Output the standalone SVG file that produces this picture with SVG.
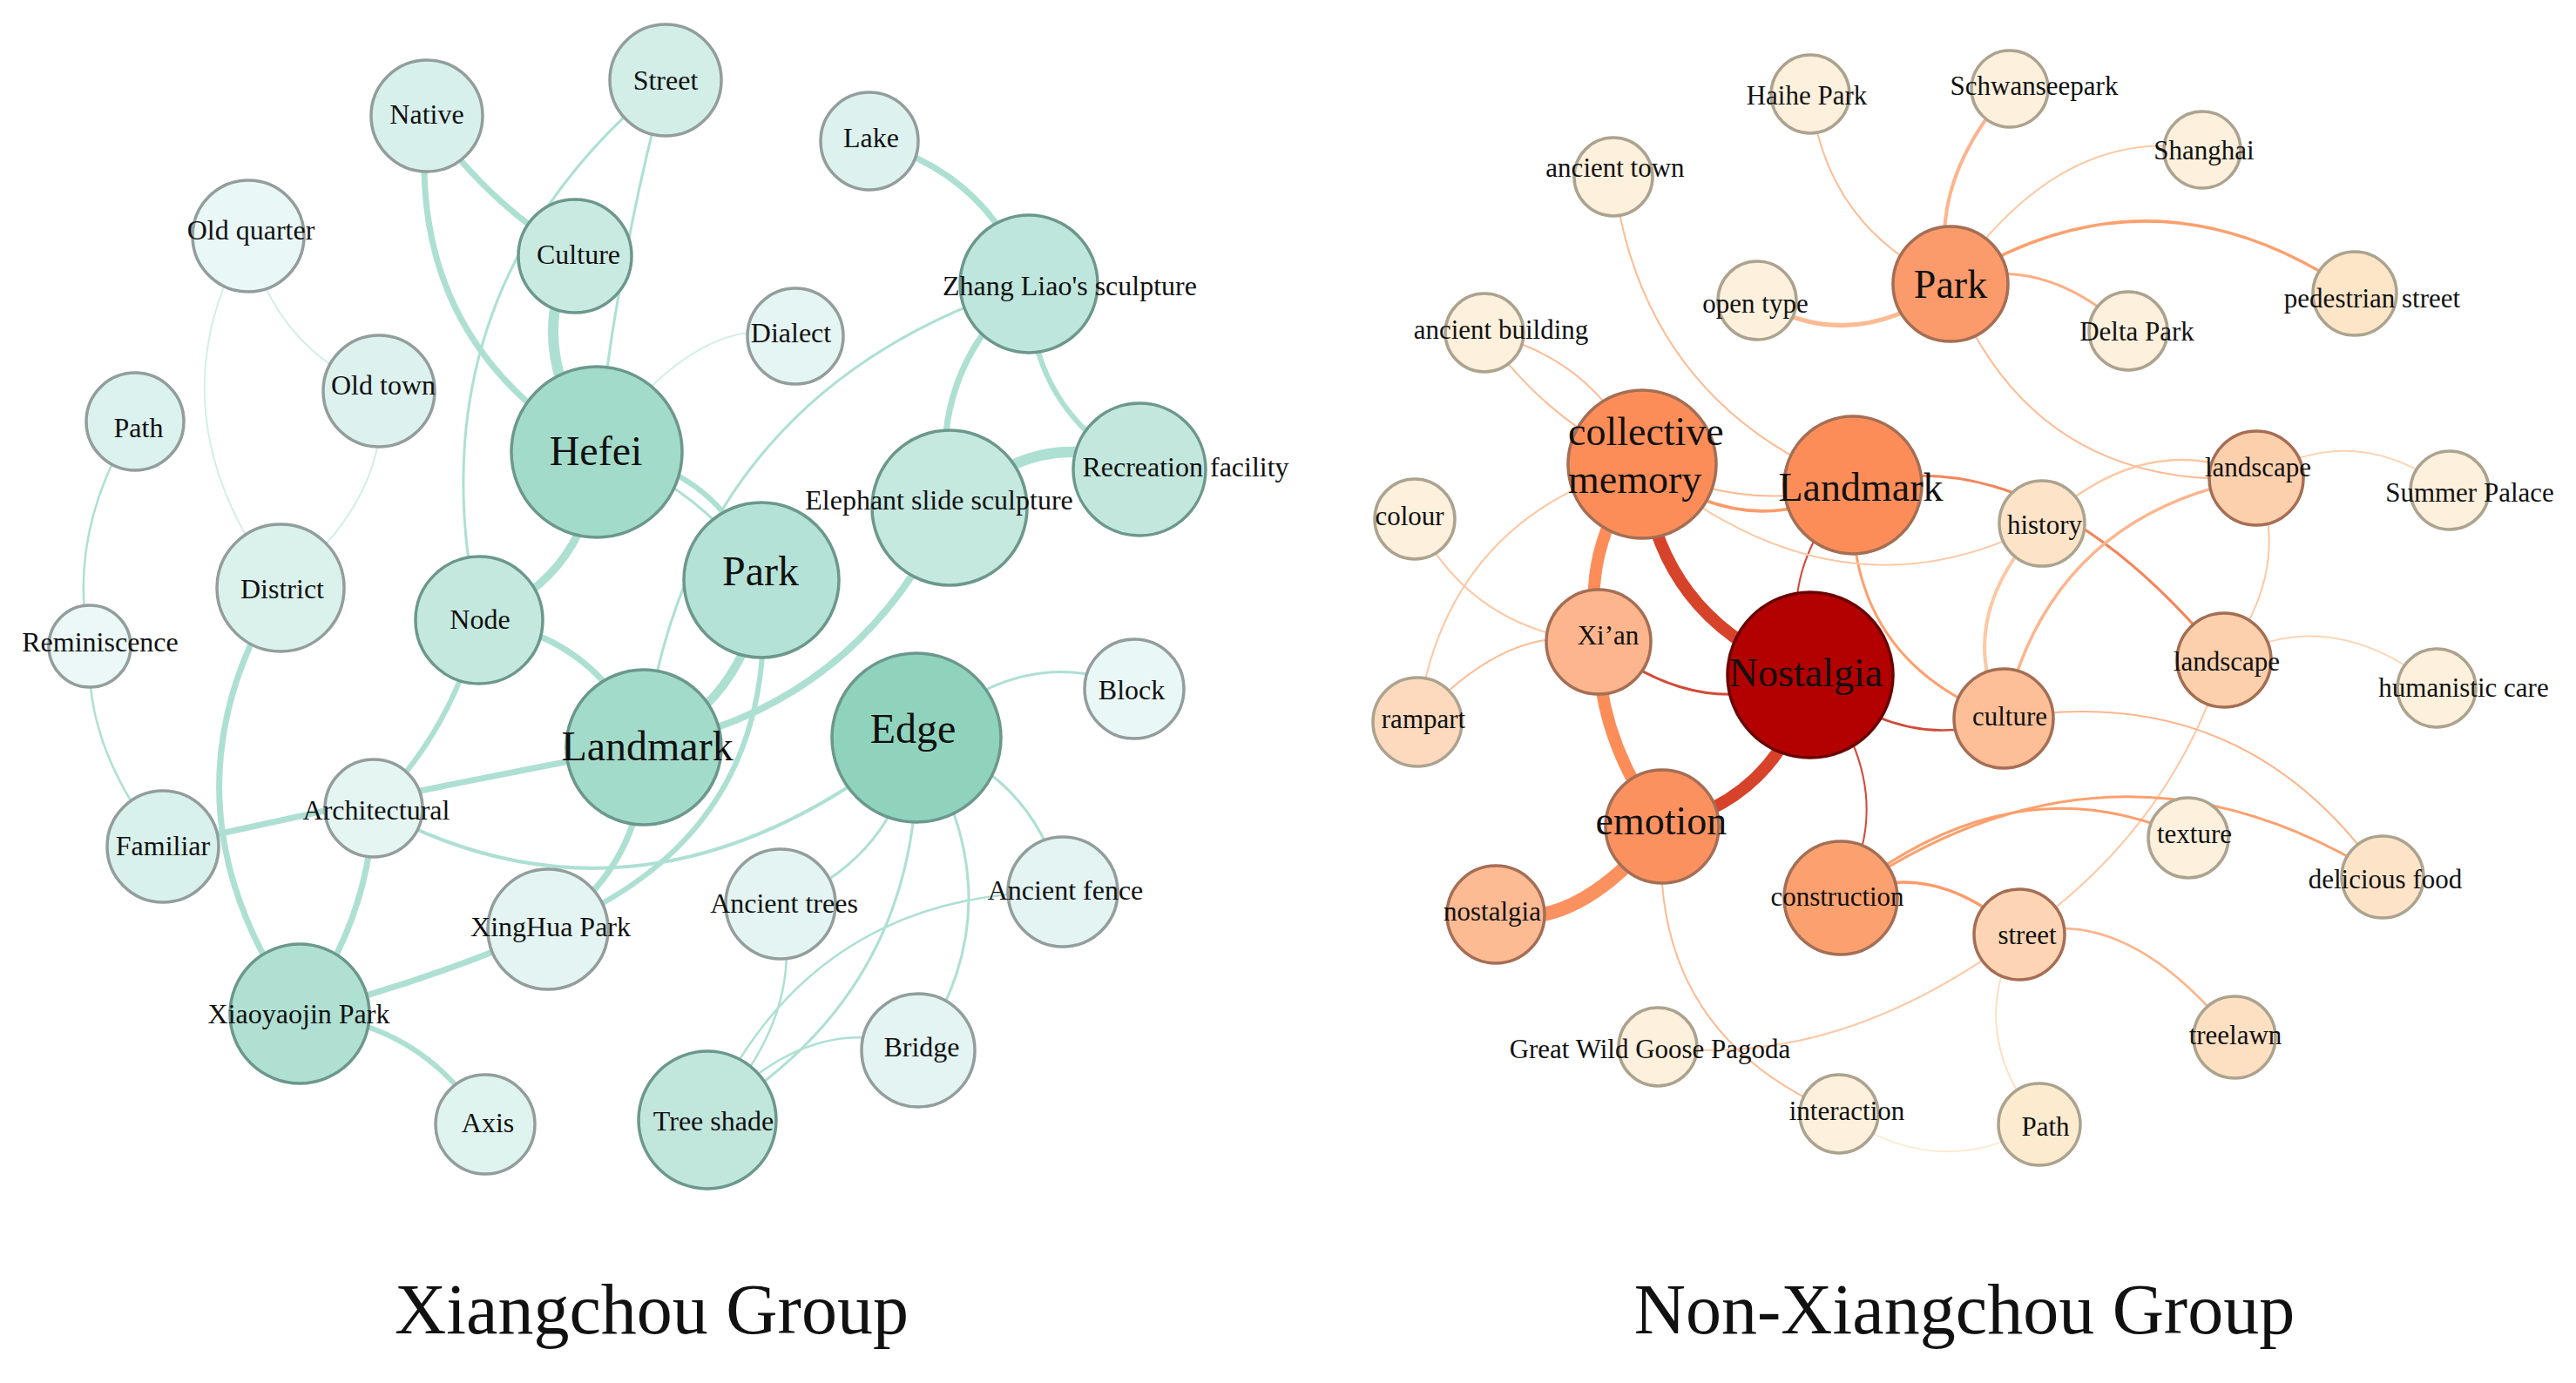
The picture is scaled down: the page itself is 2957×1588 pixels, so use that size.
<svg xmlns="http://www.w3.org/2000/svg" width="2957" height="1588" viewBox="0 0 2957 1588">
<style>
.e{fill:none;stroke-linecap:round}
.t{stroke:#ade0d3}
.tl{stroke:#d2efe8}
.o1{stroke:#fdbb94}
.o2{stroke:#fdc8a3}
.o3{stroke:#fda06e}
.o4{stroke:#fdd5b5}
.rd{stroke:#d24a3a}
.nl{stroke:#929e9b;stroke-width:3.5}
.nd{stroke:#6c988c;stroke-width:3.5}
.rl{stroke:#aca38f;stroke-width:3.5}
.ro{stroke:#a56e54;stroke-width:3.5}
.rn{stroke:#6b0000;stroke-width:3.5}
text{font-family:"Liberation Serif","Times New Roman",serif;fill:#111;text-anchor:middle}
.s32{font-size:32px}
.s48{font-size:48px}
.s31{font-size:31px}
.s46{font-size:46px}
.ttl{font-size:82px}
</style>
<rect width="2957" height="1588" fill="#ffffff"/>
<g id="connectors">
<path class="e t" stroke-width="7" d="M490,133 Q462.5,390 685,519"/>
<path class="e t" stroke-width="7" d="M490,133 Q555,230.5 660,294"/>
<path class="e t" stroke-width="12" d="M660,294 Q599.5,393.5 685,519"/>
<path class="e t" stroke-width="3" d="M764,92 Q467,336 550,712"/>
<path class="e t" stroke-width="3" d="M764,92 Q707.5,304.5 685,519"/>
<path class="e tl" stroke-width="2" d="M685,519 Q801,353.5 913,386"/>
<path class="e t" stroke-width="6" d="M685,519 Q826.5,532.5 874,666"/>
<path class="e t" stroke-width="3" d="M685,519 Q807,557 874,666"/>
<path class="e t" stroke-width="9" d="M685,519 Q680.5,659.5 550,712"/>
<path class="e t" stroke-width="6" d="M550,712 Q520.5,837 429,928"/>
<path class="e t" stroke-width="7" d="M550,712 Q687,730 739,858"/>
<path class="e tl" stroke-width="2" d="M285,271 Q313.4,399.3 435,449"/>
<path class="e tl" stroke-width="2" d="M285,271 Q168.5,473 322,675"/>
<path class="e tl" stroke-width="2" d="M435,449 Q451.5,568 322,675"/>
<path class="e t" stroke-width="2.5" d="M155,484 Q75,613 103,742"/>
<path class="e t" stroke-width="2.5" d="M103,742 Q95,857 187,972"/>
<path class="e t" stroke-width="7" d="M322,675 Q171,920 344,1164"/>
<path class="e t" stroke-width="7" d="M187,972 Q463,909 739,858"/>
<path class="e t" stroke-width="4" d="M429,928 Q740,1098.5 1052,847"/>
<path class="e t" stroke-width="7" d="M429,928 Q423,1059 344,1164"/>
<path class="e t" stroke-width="7" d="M344,1164 Q486.5,1128.5 629,1067"/>
<path class="e t" stroke-width="6" d="M344,1164 Q483.5,1172.5 557,1291"/>
<path class="e t" stroke-width="7" d="M629,1067 Q741.6,992.7 739,858"/>
<path class="e t" stroke-width="6" d="M629,1067 Q900.5,957.5 874,666"/>
<path class="e t" stroke-width="10" d="M874,666 Q861.5,801 739,858"/>
<path class="e t" stroke-width="3" d="M1181,326 Q790,450 739,858"/>
<path class="e t" stroke-width="8" d="M1090,583 Q985.5,811.5 739,858"/>
<path class="e t" stroke-width="7" d="M998,162 Q1132,196.6 1181,326"/>
<path class="e t" stroke-width="7" d="M1181,326 Q1061.4,428.3 1090,583"/>
<path class="e t" stroke-width="6" d="M1181,326 Q1180.7,470.5 1308,539"/>
<path class="e t" stroke-width="12" d="M1090,583 Q1199,483 1308,539"/>
<path class="e t" stroke-width="3" d="M1052,847 Q1177,733 1302,791"/>
<path class="e t" stroke-width="3" d="M1052,847 Q1187,887 1220,1024"/>
<path class="e t" stroke-width="3" d="M1052,847 Q1028,987 896,1038"/>
<path class="e t" stroke-width="3" d="M1052,847 Q1064,1137.5 812,1286"/>
<path class="e t" stroke-width="3" d="M1052,847 Q1171,1033.5 1054,1206"/>
<path class="e t" stroke-width="2.5" d="M1220,1024 Q930,1022 812,1286"/>
<path class="e t" stroke-width="2.5" d="M896,1038 Q928,1166 812,1286"/>
<path class="e t" stroke-width="2.5" d="M1054,1206 Q933,1154 812,1286"/>

<path class="e o1" stroke-width="2" d="M2078,108 Q2095.5,263 2239,326"/>
<path class="e" stroke="#fdb58d" stroke-width="4" d="M2307,102 Q2209,214 2239,326"/>
<path class="e o2" stroke-width="2" d="M2528,172 Q2366.5,141 2239,326"/>
<path class="e o3" stroke-width="3.5" d="M2239,326 Q2471,176.5 2703,337"/>
<path class="e" stroke="#fdae84" stroke-width="3" d="M2239,326 Q2341,287 2443,380"/>
<path class="e o1" stroke-width="5" d="M2017,345 Q2128,410.5 2239,326"/>
<path class="e o1" stroke-width="2" d="M2239,326 Q2333.5,564.5 2590,549"/>
<path class="e o1" stroke-width="2" d="M1852,203 Q1885,462 2127,557"/>
<path class="e o1" stroke-width="2" d="M1704,382 Q1773.5,482.5 1885,533"/>
<path class="e o1" stroke-width="2" d="M1704,382 Q1833,411.5 1885,533"/>
<path class="e o2" stroke-width="2" d="M1624,596 Q1690.5,725.5 1835,737"/>
<path class="e o2" stroke-width="2" d="M1885,533 Q1658,595 1627,829"/>
<path class="e o1" stroke-width="2" d="M1627,829 Q1731,713 1835,737"/>
<path class="e" stroke="#fc8d59" stroke-width="14" d="M1885,533 Q1812,635 1835,737"/>
<path class="e" stroke="#d7432a" stroke-width="14" d="M1885,533 Q1902.5,716 2078,775"/>
<path class="e" stroke="#fc8d59" stroke-width="14" d="M1835,737 Q1832.5,847 1908,949"/>
<path class="e" stroke="#d7432a" stroke-width="14" d="M2078,775 Q2047,915 1908,949"/>
<path class="e rd" stroke-width="3" d="M1835,737 Q1955.5,834 2078,775"/>
<path class="e" stroke="#fc9160" stroke-width="16" d="M1908,949 Q1811.5,1070.5 1717,1050"/>
<path class="e o1" stroke-width="2" d="M1908,949 Q1890.5,1186 2111,1279"/>
<path class="e rd" stroke-width="2" d="M2078,775 Q2186.5,907 2113,1031"/>
<path class="e rd" stroke-width="2.5" d="M2078,775 Q2189,868 2300,825"/>
<path class="e rd" stroke-width="2" d="M2127,557 Q2029.5,666 2078,775"/>
<path class="e o3" stroke-width="3" d="M2127,557 Q2114.5,757 2300,825"/>
<path class="e o1" stroke-width="2" d="M1885,533 Q2006,591 2127,557"/>
<path class="e" stroke="#fc9b6b" stroke-width="3.5" d="M1885,533 Q2006,627 2127,557"/>
<path class="e o2" stroke-width="2" d="M1885,533 Q2113.5,723 2344,601"/>
<path class="e" stroke="#f4845a" stroke-width="3" d="M2127,557 Q2340,498.5 2553,758"/>
<path class="e o2" stroke-width="4" d="M2344,601 Q2240,713 2300,825"/>
<path class="e" stroke="#fdb58d" stroke-width="3.5" d="M2300,825 Q2353,591 2590,549"/>
<path class="e o2" stroke-width="2.5" d="M2344,601 Q2467,489 2590,549"/>
<path class="e o4" stroke-width="2" d="M2590,549 Q2701,480 2812,563"/>
<path class="e o2" stroke-width="2" d="M2590,549 Q2632.5,652.5 2553,758"/>
<path class="e o4" stroke-width="2" d="M2553,758 Q2675,690 2797,790"/>
<path class="e o2" stroke-width="2" d="M2553,758 Q2490.5,954.5 2318,1073"/>
<path class="e" stroke="#fdb58d" stroke-width="2" d="M2300,825 Q2575.5,778 2735,1007"/>
<path class="e o3" stroke-width="3" d="M2113,1031 Q2311.5,869.5 2512,962"/>
<path class="e o3" stroke-width="3" d="M2113,1031 Q2424,811 2735,1007"/>
<path class="e" stroke="#fc9b6b" stroke-width="3.5" d="M2113,1031 Q2214.5,980 2318,1073"/>
<path class="e" stroke="#fdb58d" stroke-width="2.5" d="M2318,1073 Q2440.5,1036 2565,1191"/>
<path class="e" stroke="#fde0c2" stroke-width="2" d="M2318,1073 Q2254.5,1182 2341,1291"/>
<path class="e o2" stroke-width="2" d="M2318,1073 Q2109.5,1228.5 1903,1202"/>
<path class="e" stroke="#fdebd5" stroke-width="2" d="M2111,1279 Q2226,1359 2341,1291"/>
</g>

<g id="node-native"><circle class="nl" cx="490" cy="133" r="64" fill="#d8f0eb"/><text class="s32" x="490" y="142">Native</text></g>
<g id="node-street"><circle class="nl" cx="764" cy="92" r="64" fill="#d3eee7"/><text class="s32" x="764" y="103">Street</text></g>
<g id="node-old-quarter"><circle class="nl" cx="285" cy="271" r="64" fill="#eaf7f7"/><text class="s32" x="288" y="275">Old quarter</text></g>
<g id="node-culture"><circle class="nd" cx="660" cy="294" r="65" fill="#c9eae1"/><text class="s32" x="664" y="303">Culture</text></g>
<g id="node-lake"><circle class="nl" cx="998" cy="162" r="56" fill="#ddf2ef"/><text class="s32" x="1000" y="169">Lake</text></g>
<g id="node-dialect"><circle class="nl" cx="913" cy="386" r="55" fill="#e5f5f3"/><text class="s32" x="908" y="393">Dialect</text></g>
<g id="node-zhang-liao"><circle class="nd" cx="1181" cy="326" r="79" fill="#bfe6dc"/><text class="s32" x="1228" y="339">Zhang Liao's sculpture</text></g>
<g id="node-old-town"><circle class="nl" cx="435" cy="449" r="64" fill="#ddf2ee"/><text class="s32" x="440" y="453">Old town</text></g>
<g id="node-path-l"><circle class="nl" cx="155" cy="484" r="56" fill="#dcf2ee"/><text class="s32" x="159" y="502">Path</text></g>
<g id="node-hefei"><circle class="nd" cx="685" cy="519" r="98" fill="#a3dbca"/><text class="s48" x="684" y="534">Hefei</text></g>
<g id="node-park-l"><circle class="nd" cx="874" cy="666" r="89" fill="#b5e2d6"/><text class="s48" x="873" y="672">Park</text></g>
<g id="node-elephant"><circle class="nd" cx="1090" cy="583" r="89" fill="#c5e8df"/><text class="s32" x="1078" y="585">Elephant slide sculpture</text></g>
<g id="node-recreation"><circle class="nd" cx="1308" cy="539" r="76" fill="#c3e7dd"/><text class="s32" x="1361" y="547">Recreation facility</text></g>
<g id="node-district"><circle class="nl" cx="322" cy="675" r="73" fill="#dbf1ec"/><text class="s32" x="324" y="687">District</text></g>
<g id="node-node"><circle class="nd" cx="550" cy="712" r="73" fill="#c4e8de"/><text class="s32" x="551" y="722">Node</text></g>
<g id="node-reminiscence"><circle class="nl" cx="103" cy="742" r="47" fill="#ecf8f8"/><text class="s32" x="115" y="748">Reminiscence</text></g>
<g id="node-landmark-l"><circle class="nd" cx="739" cy="858" r="89" fill="#a3dbca"/><text class="s48" x="743" y="873">Landmark</text></g>
<g id="node-edge"><circle class="nd" cx="1052" cy="847" r="97" fill="#8fd3bd"/><text class="s48" x="1048" y="853">Edge</text></g>
<g id="node-block"><circle class="nl" cx="1302" cy="791" r="57" fill="#eaf7f7"/><text class="s32" x="1299" y="803">Block</text></g>
<g id="node-architectural"><circle class="nl" cx="429" cy="928" r="56" fill="#e4f5f2"/><text class="s32" x="432" y="941">Architectural</text></g>
<g id="node-familiar"><circle class="nl" cx="187" cy="972" r="64" fill="#d9f1ec"/><text class="s32" x="187" y="982">Familiar</text></g>
<g id="node-ancient-fence"><circle class="nl" cx="1220" cy="1024" r="63" fill="#e3f4f2"/><text class="s32" x="1223" y="1033">Ancient fence</text></g>
<g id="node-ancient-trees"><circle class="nl" cx="896" cy="1038" r="63" fill="#e3f4f2"/><text class="s32" x="900" y="1048">Ancient trees</text></g>
<g id="node-xinghua"><circle class="nl" cx="629" cy="1067" r="69" fill="#e3f4f2"/><text class="s32" x="632" y="1075">XingHua Park</text></g>
<g id="node-xiaoyaojin"><circle class="nd" cx="344" cy="1164" r="80" fill="#b0e0d2"/><text class="s32" x="343" y="1175">Xiaoyaojin Park</text></g>
<g id="node-bridge"><circle class="nl" cx="1054" cy="1206" r="65" fill="#e3f4f2"/><text class="s32" x="1058" y="1213">Bridge</text></g>
<g id="node-tree-shade"><circle class="nd" cx="812" cy="1286" r="79" fill="#c1e6dc"/><text class="s32" x="819" y="1298">Tree shade</text></g>
<g id="node-axis"><circle class="nl" cx="557" cy="1291" r="57" fill="#dff3ef"/><text class="s32" x="560" y="1300">Axis</text></g>

<g id="node-haihe-park"><circle class="rl" cx="2078" cy="108" r="45" fill="#fdf0dc"/><text class="s31" x="2074" y="120">Haihe Park</text></g>
<g id="node-ancient-town"><circle class="rl" cx="1852" cy="203" r="45" fill="#fdf0dc"/><text class="s31" x="1854" y="203">ancient town</text></g>
<g id="node-schwanseepark"><circle class="rl" cx="2307" cy="102" r="44" fill="#fdf0dc"/><text class="s31" x="2335" y="109">Schwanseepark</text></g>
<g id="node-shanghai"><circle class="rl" cx="2528" cy="172" r="44" fill="#fdf0dc"/><text class="s31" x="2530" y="183">Shanghai</text></g>
<g id="node-open-type"><circle class="rl" cx="2017" cy="345" r="45" fill="#fdf1de"/><text class="s31" x="2015" y="359">open type</text></g>
<g id="node-park-r"><circle class="ro" cx="2239" cy="326" r="66" fill="#fb9a6b"/><text class="s46" x="2239" y="342">Park</text></g>
<g id="node-delta-park"><circle class="rl" cx="2443" cy="380" r="45" fill="#fdf0dc"/><text class="s31" x="2453" y="391">Delta Park</text></g>
<g id="node-pedestrian-street"><circle class="rl" cx="2703" cy="337" r="48" fill="#fde5c8"/><text class="s31" x="2723" y="353">pedestrian street</text></g>
<g id="node-ancient-building"><circle class="rl" cx="1704" cy="382" r="45" fill="#fdf0dc"/><text class="s31" x="1723" y="389">ancient building</text></g>
<g id="node-collective-memory"><circle class="ro" cx="1885" cy="533" r="85" fill="#fc8d59"/><text class="s46" x="1800" y="511" style="text-anchor:start">collective</text><text class="s46" x="1800" y="566" style="text-anchor:start">memory</text></g>
<g id="node-landmark-r"><circle class="ro" cx="2127" cy="557" r="79" fill="#fc8d59"/><text class="s46" x="2136" y="575">Landmark</text></g>
<g id="node-landscape-1"><circle class="ro" cx="2590" cy="549" r="54" fill="#fdd0ad"/><text class="s31" x="2592" y="547">landscape</text></g>
<g id="node-summer-palace"><circle class="rl" cx="2812" cy="563" r="45" fill="#fdf0dc"/><text class="s31" x="2835" y="576">Summer Palace</text></g>
<g id="node-colour"><circle class="rl" cx="1624" cy="596" r="46" fill="#fdf0dc"/><text class="s31" x="1618" y="603">colour</text></g>
<g id="node-history"><circle class="rl" cx="2344" cy="601" r="49" fill="#fde4c8"/><text class="s31" x="2347" y="613">history</text></g>
<g id="node-xian"><circle class="ro" cx="1835" cy="737" r="60" fill="#fdb58d"/><text class="s31" x="1846" y="740">Xi’an</text></g>
<g id="node-nostalgia-big"><circle class="rn" cx="2078" cy="775" r="95" fill="#b30000"/><text class="s46" x="2073" y="788">Nostalgia</text></g>
<g id="node-landscape-2"><circle class="ro" cx="2553" cy="758" r="54" fill="#fdd0ad"/><text class="s31" x="2556" y="770">landscape</text></g>
<g id="node-humanistic-care"><circle class="rl" cx="2797" cy="790" r="45" fill="#fdf0dc"/><text class="s31" x="2828" y="800">humanistic care</text></g>
<g id="node-culture-r"><circle class="ro" cx="2300" cy="825" r="57" fill="#fdbf97"/><text class="s31" x="2307" y="833">culture</text></g>
<g id="node-rampart"><circle class="rl" cx="1627" cy="829" r="51" fill="#fdd9bd"/><text class="s31" x="1634" y="836">rampart</text></g>
<g id="node-emotion"><circle class="ro" cx="1908" cy="949" r="65" fill="#fc9160"/><text class="s46" x="1907" y="958">emotion</text></g>
<g id="node-texture"><circle class="rl" cx="2512" cy="962" r="46" fill="#fdf0dc"/><text class="s31" x="2519" y="968">texture</text></g>
<g id="node-delicious-food"><circle class="rl" cx="2735" cy="1007" r="47" fill="#fde4c8"/><text class="s31" x="2738" y="1020">delicious food</text></g>
<g id="node-construction"><circle class="ro" cx="2113" cy="1031" r="65" fill="#fba06f"/><text class="s31" x="2109" y="1040">construction</text></g>
<g id="node-nostalgia-small"><circle class="ro" cx="1717" cy="1050" r="56" fill="#fdbb94"/><text class="s31" x="1713" y="1057">nostalgia</text></g>
<g id="node-street-r"><circle class="ro" cx="2318" cy="1073" r="52" fill="#fdd5b5"/><text class="s31" x="2327" y="1084">street</text></g>
<g id="node-treelawn"><circle class="rl" cx="2565" cy="1191" r="47" fill="#fde0c2"/><text class="s31" x="2566" y="1199">treelawn</text></g>
<g id="node-great-wild-goose"><circle class="rl" cx="1903" cy="1202" r="45" fill="#fdf0dc"/><text class="s31" x="1894" y="1215">Great Wild Goose Pagoda</text></g>
<g id="node-interaction"><circle class="rl" cx="2111" cy="1279" r="45" fill="#fdf0dc"/><text class="s31" x="2120" y="1286">interaction</text></g>
<g id="node-path-r"><circle class="rl" cx="2341" cy="1291" r="47" fill="#fdebd0"/><text class="s31" x="2348" y="1304">Path</text></g>

<g id="titles">
<text class="ttl" x="748" y="1531">Xiangchou Group</text>
<text class="ttl" x="2255" y="1531">Non-Xiangchou Group</text>
</g>
</svg>
